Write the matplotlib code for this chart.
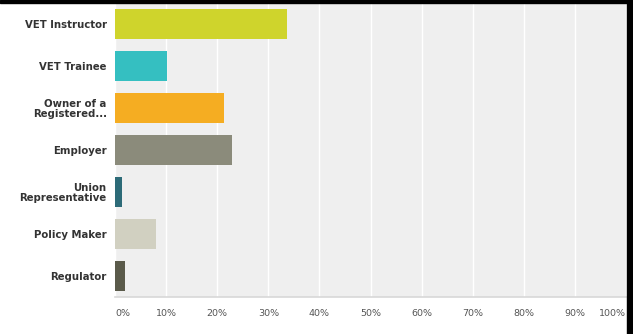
import matplotlib
matplotlib.use("Agg")
import matplotlib.pyplot as plt
from matplotlib.patches import Rectangle

categories = ["VET Instructor", "VET Trainee", "Owner of a\nRegistered...", "Employer",
              "Union\nRepresentative", "Policy Maker", "Regulator"]
values = [33.7, 10.2, 21.4, 22.9, 1.4, 8.0, 2.0]
colors = ["#cfd42c", "#35bfc1", "#f5ad22", "#8b8b7b", "#2d6b78", "#d1d0c1", "#5a5a4a"]
tick_vals = [0, 10, 20, 30, 40, 50, 60, 70, 80, 90, 100]
tick_labels = ["0%", "10%", "20%", "30%", "40%", "50%", "60%", "70%", "80%", "90%", "100%"]

W, H = 633, 334
fig = plt.figure(figsize=(W / 100, H / 100), dpi=100)
fig.patch.set_facecolor("white")

ax = fig.add_axes([115 / W, 1 - 297 / H, 511 / W, 294 / H])
ax.set_facecolor("#efefef")
n = len(categories)
ypos = list(range(n))
ax.barh(ypos, values, height=0.714, color=colors, zorder=3)
ax.set_ylim(n - 0.5, -0.5)
ax.set_xlim(0, 100)

for v in tick_vals:
    ax.axvline(v, color="white", lw=1.0, zorder=1)

for s in ["top", "right", "left"]:
    ax.spines[s].set_visible(False)
ax.spines["bottom"].set_color("#d8d8d8")
ax.spines["bottom"].set_linewidth(1.2)

ax.set_yticks(ypos)
ax.set_yticklabels(categories, fontsize=7.3, fontweight="bold", color="#333333",
                   family="DejaVu Sans", linespacing=1.0)
ax.tick_params(axis="y", length=0, pad=6)

ax.set_xticks(tick_vals)
ax.set_xticklabels(tick_labels, fontsize=6.8, color="#555555")
ax.tick_params(axis="x", length=0, pad=9)
xt = ax.get_xticklabels()
xt[0].set_horizontalalignment("left")
xt[-1].set_horizontalalignment("right")

# black frame edges (top and right)
fig.add_artist(Rectangle((0, 1 - 3 / H), 1, 3 / H, transform=fig.transFigure,
                         color="black", zorder=10))
fig.add_artist(Rectangle((627 / W, 0), 6 / W, 1, transform=fig.transFigure,
                         color="black", zorder=10))

fig.savefig("out.png", dpi=100)
